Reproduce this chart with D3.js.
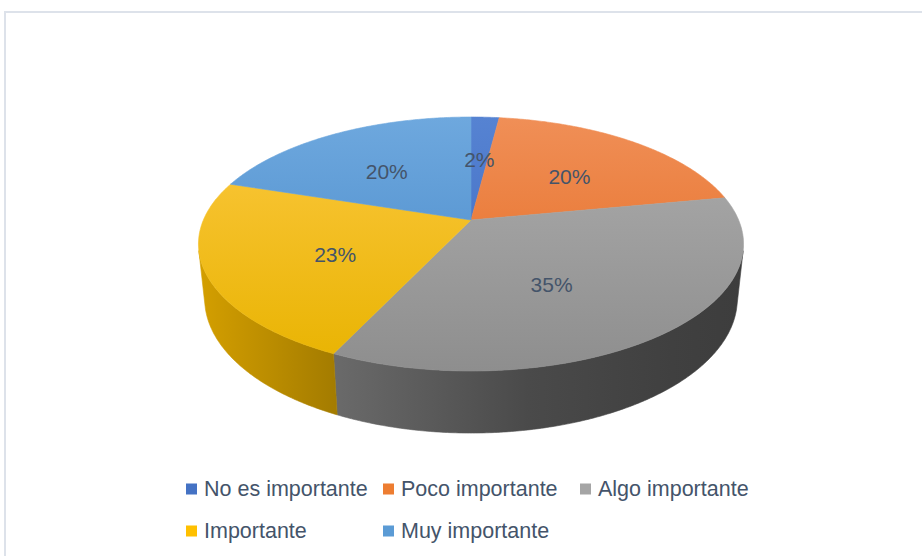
<!DOCTYPE html>
<html><head><meta charset="utf-8">
<script src="https://cdn.jsdelivr.net/npm/d3@7/dist/d3.min.js"></script>
<style>html,body{margin:0;padding:0;background:#fff;} svg{display:block}</style>
</head><body>
<svg id="chart" width="922" height="556"></svg>
<script>
// ---- data ----
const categories = ["No es importante", "Poco importante", "Algo importante", "Importante", "Muy importante"];
const values = [2, 20, 35, 23, 20];
const labels = ["2%", "20%", "35%", "23%", "20%"];
// ---- styles ----
const baseColors = ["#4472C4", "#ED7D31", "#A5A5A5", "#FFC000", "#5B9BD5"];
const topLight = ["#5683d2", "#f08f57", "#adadad", "#fcc840", "#6ea8de"];
const topDark = ["#3a66bf", "#e3671b", "#8e8e8e", "#e8b300", "#4486c7"];
const wallShadeAngles = [256, 205, 170, 140, 104];   // degrees, clockwise from 12 o'clock
const wallShadeFactors = [0.83, 0.645, 0.45, 0.39, 0.37];

const W = 922, H = 556;
const svg = d3.select("#chart");
const defs = svg.append("defs");

// chart area border
svg.append("rect").attr("x", 5).attr("y", 12).attr("width", W + 20).attr("height", H + 20)
  .attr("fill", "#fff").attr("stroke", "#dde2ea").attr("stroke-width", 2);

// ---- perspective camera for the 3D pie ----
const cx = 471, cy = 220, f = 1258.6, D = 4.703, sphi = 0.4576, depth = 0.2316;
const cphi = Math.sqrt(1 - sphi * sphi);
function project(x, y, z) {
  const dist = D - (z * cphi + y * sphi);
  return [cx + f * x / dist, cy + f * (z * sphi - y * cphi) / dist];
}
function unproject(X, Y) { // screen point -> plane (top face) coords
  const u = (X - cx) / f, v = (Y - cy) / (f * sphi);
  const z = v * D / (1 + v * cphi);
  const x = u * (D - z * cphi);
  return [x, z];
}
function rim(theta, r, y) { return project(r * Math.sin(theta), y, -r * Math.cos(theta)); }
function arcPts(a0, a1, r, y) {
  const n = Math.max(2, Math.ceil(Math.abs(a1 - a0) / (Math.PI / 360)));
  return d3.range(n + 1).map(i => rim(a0 + (a1 - a0) * i / n, r, y));
}

const pie = d3.pie().sort(null).value(d => d).startAngle(0).endAngle(2 * Math.PI);
const arcs = pie(values);
const line = d3.line().curve(d3.curveLinear);

// visible wall range
const thMin = Math.acos(-1 / (D * cphi));
const thMax = 2 * Math.PI - thMin;

// extent of rim in screen
const rimAll = arcPts(0, 2 * Math.PI, 1, 0);
const yTop = d3.min(rimAll, p => p[1]), yBot = d3.max(rimAll, p => p[1]);
const xL = d3.min(rimAll, p => p[0]), xR = d3.max(rimAll, p => p[0]);

const shade = d3.scaleLinear().domain(wallShadeAngles.map(a => a * Math.PI / 180)).range(wallShadeFactors);

arcs.forEach((a, i) => {
  defs.append("linearGradient").attr("id", "top" + i).attr("gradientUnits", "userSpaceOnUse")
    .attr("x1", 0).attr("x2", 0).attr("y1", yTop).attr("y2", yBot)
    .selectAll("stop").data([[0, topLight[i]], [1, topDark[i]]]).join("stop")
    .attr("offset", d => d[0]).attr("stop-color", d => d[1]);
  const base = d3.rgb(baseColors[i]);
  const g = defs.append("linearGradient").attr("id", "wall" + i).attr("gradientUnits", "userSpaceOnUse")
    .attr("x1", xL).attr("x2", xR).attr("y1", 0).attr("y2", 0);
  const stops = wallShadeAngles.map(deg => {
    const th = deg * Math.PI / 180;
    const px = rim(th, 1, 0)[0];
    const k = shade(th);
    return [Math.max(0, Math.min(1, (px - xL) / (xR - xL))), d3.rgb(base.r * k, base.g * k, base.b * k).formatHex()];
  }).sort((p, q) => p[0] - q[0]);
  g.selectAll("stop").data(stops).join("stop").attr("offset", d => d[0]).attr("stop-color", d => d[1]);
});

// walls
const gWalls = svg.append("g");
arcs.forEach((a, i) => {
  const a0 = Math.max(a.startAngle, thMin), a1 = Math.min(a.endAngle, thMax);
  if (a0 >= a1) return;
  const pts = arcPts(a0, a1, 1, 0).concat(arcPts(a1, a0, 1, -depth));
  gWalls.append("path").attr("d", line(pts) + "Z")
    .attr("fill", `url(#wall${i})`).attr("stroke", `url(#wall${i})`).attr("stroke-width", 0.6);
});

// tops
const gTops = svg.append("g");
const labelPos = [];
const labelR = 0.55;
arcs.forEach((a, i) => {
  const pts = [project(0, 0, 0)].concat(arcPts(a.startAngle, a.endAngle, 1, 0));
  const c = d3.polygonCentroid(pts);
  const [px, pz] = unproject(c[0], c[1]);
  const th = Math.atan2(px, -pz);
  labelPos.push(rim(th, labelR, 0));
  gTops.append("path").attr("d", line(pts) + "Z")
    .attr("fill", `url(#top${i})`).attr("stroke", `url(#top${i})`).attr("stroke-width", 0.6)
    .attr("stroke-linejoin", "round");
});

// data labels
svg.append("g").selectAll("text").data(arcs).join("text")
  .attr("x", (d, i) => labelPos[i][0]).attr("y", (d, i) => labelPos[i][1])
  .attr("text-anchor", "middle").attr("dominant-baseline", "central")
  .attr("font-family", "'Liberation Sans', Arial, sans-serif").attr("font-size", 21)
  .attr("fill", "#44546A").text((d, i) => labels[i]);

// legend
const colX = d3.scaleLinear().domain([0, 1]).range([186, 383]);
const rowY = d3.scaleLinear().domain([0, 1]).range([489, 531]);
const leg = svg.append("g").selectAll("g").data(categories).join("g")
  .attr("transform", (d, i) => `translate(${colX(i % 3)},${rowY(Math.floor(i / 3))})`);
leg.append("rect").attr("x", 0).attr("y", -5.5).attr("width", 11).attr("height", 11)
  .attr("fill", (d, i) => baseColors[i]);
leg.append("text").attr("x", 18).attr("y", 0).attr("dominant-baseline", "central")
  .attr("font-family", "'Liberation Sans', Arial, sans-serif").attr("font-size", 21.5)
  .attr("fill", "#44546A").text(d => d);
</script>
</body></html>
